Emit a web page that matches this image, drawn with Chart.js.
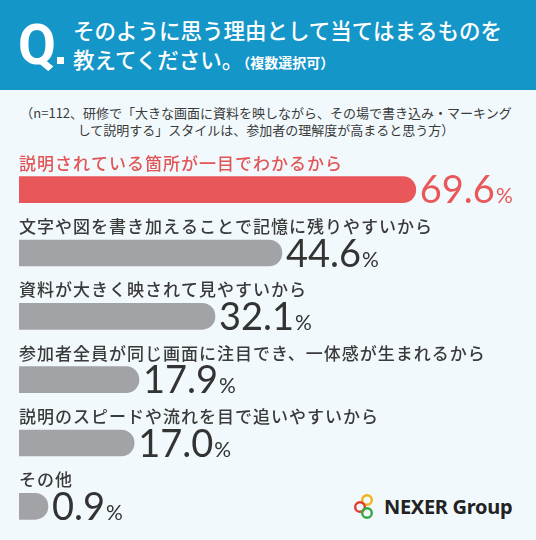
<!DOCTYPE html>
<html>
<head>
<meta charset="utf-8">
<script src="https://cdn.jsdelivr.net/npm/chart.js@4"></script>
<style>
  html, body { margin: 0; padding: 0; }
  body { width: 536px; height: 540px; background: #f2f9fc; position: relative; overflow: hidden;
         font-family: "Noto Sans CJK JP", "Noto Sans", sans-serif; }
  #head { position: absolute; left: 0; top: 0; width: 536px; height: 90px; background: #1496c8; color: #fff; }
  #q { position: absolute; left: 18px; top: 10px; font: 700 55px Roboto, sans-serif; line-height: 70px; }
  #q i { display: inline-block; width: 7px; height: 7px; background: #fff; margin-left: 1px; }
  #title { position: absolute; left: 73px; top: 15px; font-size: 21.5px; font-weight: 500; line-height: 29px; }
  #title small { font-size: 14px; font-weight: 700; }
  #sub { position: absolute; left: 0; top: 105px; width: 532px; text-align: center; color: #3a3a3a;
         font-size: 13px; line-height: 16.5px; }
  #logo { position: absolute; left: 354px; top: 492px; height: 28px; display: flex; align-items: center; }
  #logo b { font: 700 20px "Noto Sans", sans-serif; color: #222; margin-left: 10px; letter-spacing: -0.3px; }
  #wrap { position: absolute; left: 0; top: 0; width: 536px; height: 540px; }
</style>
</head>
<body>
<div id="head">
  <div id="q">Q<i></i></div>
  <div id="title">そのように思う理由として当てはまるものを<br>教えてください。<small>（複数選択可）</small></div>
</div>
<div id="sub">（n=112、研修で「大きな画面に資料を映しながら、その場で書き込み・マーキング<br>して説明する」スタイルは、参加者の理解度が高まると思う方）</div>
<div id="logo">
  <svg width="20" height="27" viewBox="0 0 20 27">
    <circle cx="13" cy="7" r="4.8" fill="none" stroke="#f2b21c" stroke-width="2.4"/>
    <circle cx="6" cy="14" r="4.8" fill="none" stroke="#e23b32" stroke-width="2.4"/>
    <circle cx="13" cy="20" r="4.8" fill="none" stroke="#33a845" stroke-width="2.4"/>
  </svg>
  <b>NEXER Group</b>
</div>
<div id="wrap"><canvas id="chart"></canvas></div>

<script>
var categories = [
  '説明されている箇所が一目でわかるから',
  '文字や図を書き加えることで記憶に残りやすいから',
  '資料が大きく映されて見やすいから',
  '参加者全員が同じ画面に注目でき、一体感が生まれるから',
  '説明のスピードや流れを目で追いやすいから',
  'その他'
];
var values = [69.6, 44.6, 32.1, 17.9, 17.0, 0.9];

var highlight = 0;
var red = '#e8585a';
var grey = '#a2a3a7';

function $each(arr, fn) { for (var i = 0; i < arr.length; i++) fn(i, arr[i]); }

var barLabels = {
  id: 'barLabels',
  afterDatasetsDraw: function(chart) {
    var ctx = chart.ctx;
    var meta = chart.getDatasetMeta(0);
    var left = chart.chartArea.left;
    ctx.save();
    $each(meta.data, function(i, bar) {
      var hot = i === highlight;
      // category label above the bar
      ctx.font = '500 17px "Noto Sans CJK JP"';
      if ('letterSpacing' in ctx) ctx.letterSpacing = '1px';
      ctx.fillStyle = hot ? '#e25556' : '#3a3a3a';
      ctx.textBaseline = 'middle';
      ctx.textAlign = 'left';
      ctx.fillText(categories[i], left, bar.y - 26.5);
      if ('letterSpacing' in ctx) ctx.letterSpacing = '0px';

      // value after the bar end
      var txt = values[i].toFixed(1);
      ctx.textBaseline = 'alphabetic';
      ctx.fillStyle = hot ? red : '#333';
      ctx.font = '400 38px Lato';
      var x = bar.x + 4;
      ctx.fillText(txt, x, bar.y + 13.5);
      x += ctx.measureText(txt).width + 1;
      ctx.font = '400 21px Lato';
      ctx.fillText('%', x, bar.y + 13.5);
    });
    ctx.restore();
  }
};

new Chart(document.getElementById('chart'), {
  type: 'bar',
  data: {
    labels: categories,
    datasets: [{
      data: values,
      base: -4.5,
      backgroundColor: values.map(function(v, i) { return i === highlight ? red : grey; }),
      borderRadius: { topLeft: 0, bottomLeft: 0, topRight: 13, bottomRight: 13 },
      borderSkipped: false,
      barThickness: 26
    }]
  },
  options: {
    indexAxis: 'y',
    responsive: true,
    maintainAspectRatio: false,
    animation: false,
    layout: { padding: { left: 19, right: 19, top: 158, bottom: 2 } },
    plugins: { legend: { display: false }, tooltip: { enabled: false } },
    scales: {
      x: { display: false, min: -4.5, max: 88.5 },
      y: { display: false }
    }
  },
  plugins: [barLabels]
});
</script>
</body>
</html>
